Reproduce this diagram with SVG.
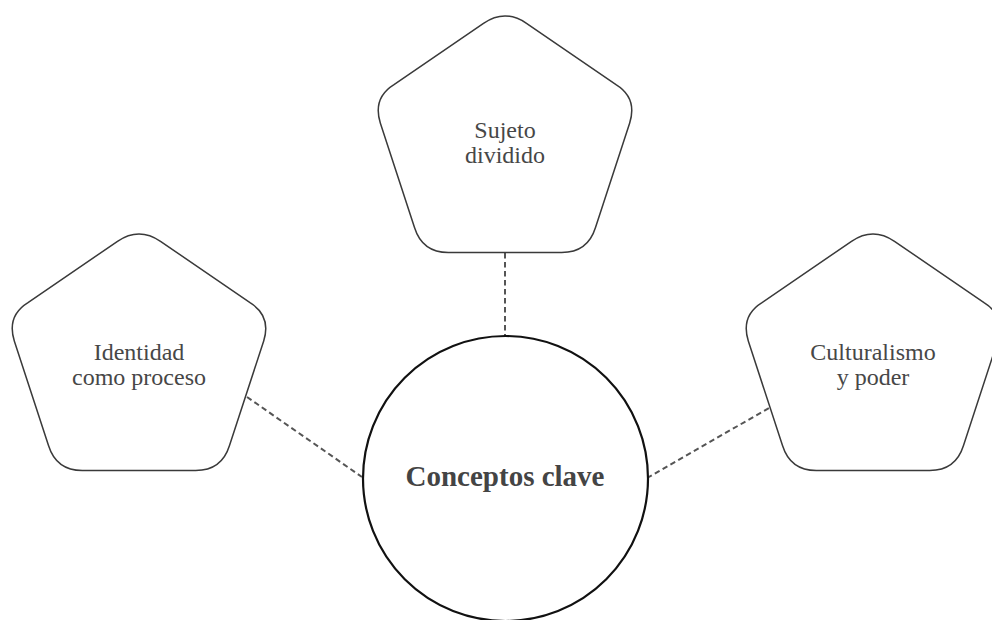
<svg xmlns="http://www.w3.org/2000/svg" xmlns:xlink="http://www.w3.org/1999/xlink" width="992" height="620" viewBox="0 0 992 620">
  <style>
    .pent { fill: #ffffff; stroke: #3a3a3a; stroke-width: 1.5; }
    .hub { fill: #ffffff; stroke: #111111; stroke-width: 2.2; }
    .conn { fill: none; stroke: #555555; stroke-width: 2; stroke-dasharray: 5.5 3.5; }
    .lbl { font-family: "Liberation Serif", "Times New Roman", serif; font-size: 24px; fill: #474747; text-anchor: middle; }
    .hubLbl { font-family: "Liberation Serif", "Times New Roman", serif; font-size: 29px; font-weight: bold; fill: #444444; text-anchor: middle; }
  </style>
  <defs>
    <path id="pentShape" d="M 483.5 23.3 Q 505 8.6 526.5 23.3 L 616 84.7 Q 637.5 98 629.7 123 L 595.5 227.5 Q 587.7 252.5 561.7 252.5 L 448.3 252.5 Q 422.3 252.5 414.5 227.5 L 380.3 123 Q 372.5 98 394 84.7 Z"/>
  </defs>
  <rect x="0" y="0" width="992" height="620" fill="#ffffff"/>
  <g id="connectors">
    <line class="conn" x1="505" y1="253" x2="505" y2="336"/>
    <line class="conn" x1="247" y1="397" x2="362" y2="477"/>
    <line class="conn" x1="647" y1="478" x2="769" y2="408"/>
  </g>
  <g id="node-sujeto">
    <use xlink:href="#pentShape" href="#pentShape" class="pent"/>
    <text class="lbl" x="505" y="138">Sujeto</text>
    <text class="lbl" x="505" y="163">dividido</text>
  </g>
  <g id="node-identidad">
    <use xlink:href="#pentShape" href="#pentShape" class="pent" transform="translate(-366,218)"/>
    <text class="lbl" x="139" y="360">Identidad</text>
    <text class="lbl" x="139" y="385">como proceso</text>
  </g>
  <g id="node-culturalismo">
    <use xlink:href="#pentShape" href="#pentShape" class="pent" transform="translate(368,218)"/>
    <text class="lbl" x="873" y="360">Culturalismo</text>
    <text class="lbl" x="873" y="385">y poder</text>
  </g>
  <g id="node-conceptos">
    <circle class="hub" cx="505.5" cy="478.5" r="142.5"/>
    <text class="hubLbl" x="505" y="486">Conceptos clave</text>
  </g>
</svg>
